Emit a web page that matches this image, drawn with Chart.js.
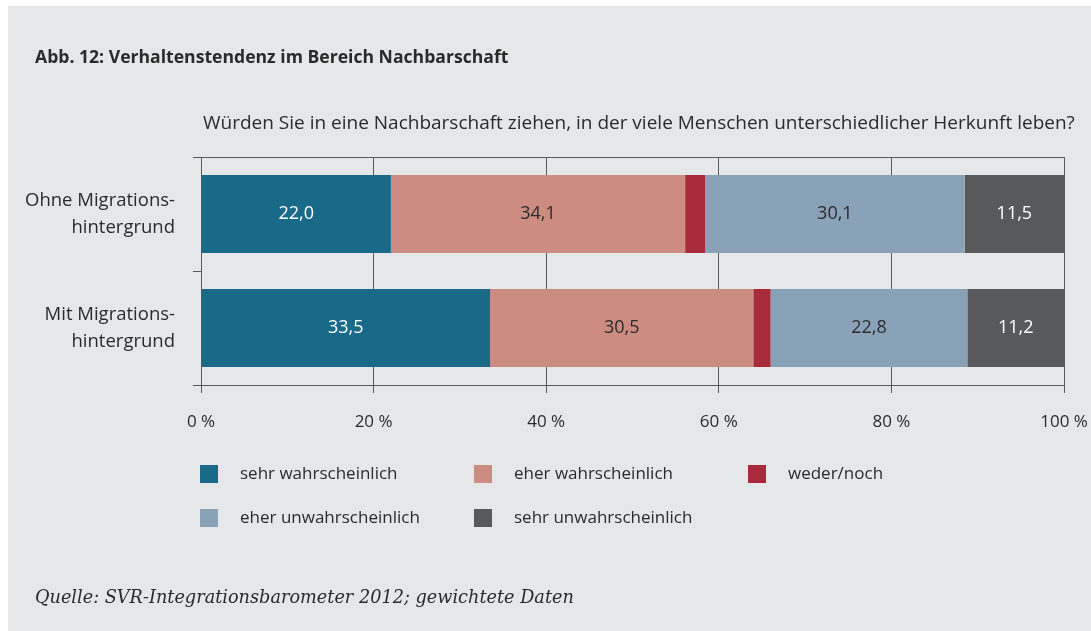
<!DOCTYPE html>
<html>
<head>
<meta charset="utf-8">
<script src="https://cdn.jsdelivr.net/npm/chart.js@4"></script>
<style>
  html, body { margin: 0; padding: 0; background: #fff; }
  body { width: 1091px; height: 631px; position: relative; overflow: hidden; font-family: "Open Sans", sans-serif; color: #2b2b2b; }
  #panel { position: absolute; left: 8px; top: 6px; right: 0; bottom: 0; background: #e6e7e8; }
  #wrap { position: absolute; left: 0; top: 0; width: 1091px; height: 631px; }
  .title { position: absolute; left: 35px; top: 44px; font-weight: 700; font-size: 17.6px; white-space: nowrap; }
  .question { position: absolute; left: 203px; top: 109px; font-size: 19px; white-space: nowrap; }
  .source { position: absolute; left: 35px; top: 587px; font-family: "DejaVu Serif", serif; font-style: italic; font-size: 17.7px; white-space: nowrap; }
  .leg { position: absolute; font-size: 17px; white-space: nowrap; }
  .leg i { position: absolute; left: 0; top: 2px; width: 18px; height: 18px; }
  .leg span { position: absolute; left: 40px; top: -2px; }
</style>
</head>
<body>
<div id="panel"></div>
<div id="wrap"><canvas id="chart" width="1091" height="631"></canvas></div>
<div class="title">Abb. 12: Verhaltenstendenz im Bereich Nachbarschaft</div>
<div class="question">Würden Sie in eine Nachbarschaft ziehen, in der viele Menschen unterschiedlicher Herkunft leben?</div>
<div id="legend"></div>
<div class="source">Quelle: SVR-Integrationsbarometer 2012; gewichtete Daten</div>
<script>
// categories (y axis)
const categories = [['Ohne Migrations-', 'hintergrund'], ['Mit Migrations-', 'hintergrund']];
// answer series
const seriesNames = ['sehr wahrscheinlich', 'eher wahrscheinlich', 'weder/noch', 'eher unwahrscheinlich', 'sehr unwahrscheinlich'];
const seriesColors = ['#186a88', '#cc8c81', '#a92a3a', '#8aa2b7', '#58595b'];
const labelColors = ['#ffffff', '#2b2b2b', null, '#2b2b2b', '#ffffff'];
// values in percent, one array per series (Ohne, Mit)
const sehrWahr = [22.0, 33.5];
const eherWahr = [34.1, 30.5];
const wederNoch = [2.3, 2.0];
const eherUnwahr = [30.1, 22.8];
const sehrUnwahr = [11.5, 11.2];
const seriesValues = [sehrWahr, eherWahr, wederNoch, eherUnwahr, sehrUnwahr];
// x axis ticks
const xTicks = [0, 20, 40, 60, 80, 100];

const axisColor = '#5a5a5a';
const textColor = '#2b2b2b';

// legend grid: 3 columns, 2 rows
const legCols = [200, 474, 748];
const legRows = [463, 507];
const legend = document.getElementById('legend');
seriesNames.forEach((name, i) => {
	const d = document.createElement('div');
	d.className = 'leg';
	d.style.left = legCols[i % 3] + 'px';
	d.style.top = legRows[Math.floor(i / 3)] + 'px';
	d.innerHTML = '<i style="background:' + seriesColors[i] + '"></i><span>' + name + '</span>';
	legend.appendChild(d);
});

// draws the value inside each bar segment
const valueLabels = {
	id: 'valueLabels',
	afterDatasetsDraw(chart) {
		const ctx = chart.ctx;
		ctx.save();
		ctx.font = '18px "Open Sans"';
		ctx.textAlign = 'center';
		ctx.textBaseline = 'middle';
		chart.data.datasets.forEach((ds, i) => {
			if (!labelColors[i]) return;
			ctx.fillStyle = labelColors[i];
			chart.getDatasetMeta(i).data.forEach((bar, j) => {
				const txt = ds.data[j].toFixed(1).replace('.', ',');
				ctx.fillText(txt, (bar.x + bar.base) / 2, bar.y);
			});
		});
		ctx.restore();
	},
};

new Chart(document.getElementById('chart'), {
	type: 'bar',
	plugins: [valueLabels],
	data: {
		labels: categories,
		datasets: seriesNames.map((name, i) => ({
			label: name,
			data: seriesValues[i],
			backgroundColor: seriesColors[i],
			borderWidth: 0,
			categoryPercentage: 0.685,
			barPercentage: 1,
		})),
	},
	options: {
		indexAxis: 'y',
		responsive: false,
		animation: false,
		layout: { padding: { top: 157, right: 27, bottom: 186, left: 0 } },
		plugins: {
			legend: { display: false },
			tooltip: { enabled: false },
		},
		scales: {
			x: {
				stacked: true,
				min: 0,
				max: 100,
				afterBuildTicks: (s) => { s.ticks = xTicks.map(v => ({ value: v })); },
				afterFit: (s) => { s.height = 60; s.paddingLeft = 0; s.paddingRight = 0; },
				grid: { color: axisColor, lineWidth: 1, tickLength: 8, drawTicks: true },
				border: { color: axisColor, width: 1 },
				ticks: {
					color: textColor,
					font: { family: 'Open Sans', size: 17 },
					padding: 19,
					callback: (v) => v + ' %',
				},
			},
			x2: {
				position: 'top',
				min: 0,
				max: 100,
				afterFit: (s) => { s.height = 0; s.paddingLeft = 0; s.paddingRight = 0; },
				grid: { display: false },
				border: { display: true, color: axisColor, width: 1 },
				ticks: { display: false },
			},
			y: {
				stacked: true,
				afterFit: (s) => { s.width = 201; s.paddingTop = 0; s.paddingBottom = 0; },
				grid: { offset: true, drawOnChartArea: false, color: axisColor, tickLength: 8 },
				border: { color: axisColor, width: 1 },
				ticks: {
					color: textColor,
					font: { family: 'Open Sans', size: 18.5, lineHeight: 1.46 },
					padding: 18,
				},
			},
		},
	},
});
</script>
</body>
</html>
